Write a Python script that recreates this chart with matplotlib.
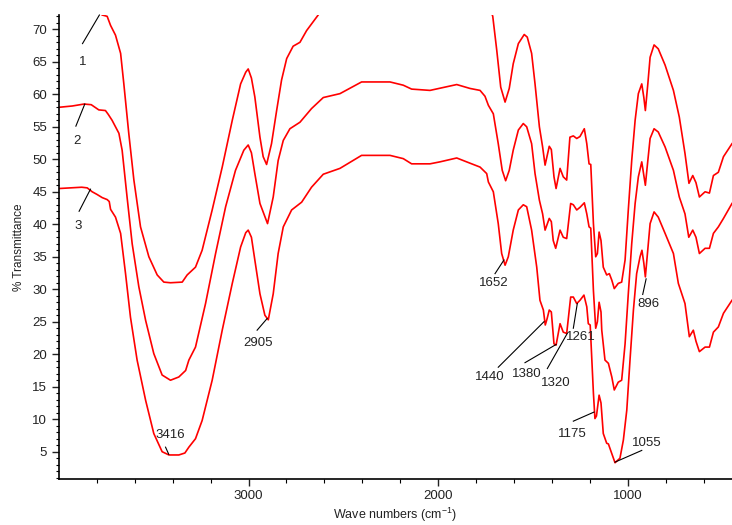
import matplotlib
matplotlib.use("Agg")
import matplotlib.pyplot as plt
from matplotlib.ticker import FixedLocator, MultipleLocator, NullFormatter

plt.rcParams['font.family'] = ['Liberation Sans', 'DejaVu Sans']
plt.rcParams['mathtext.default'] = 'regular'

# ---- data: wavenumber (cm-1) and % transmittance for the three spectra ----
wn1 = [4000, 3850, 3790, 3772, 3746, 3728, 3702, 3675, 3658, 3632, 3605, 3570, 3526,
       3482, 3447, 3412, 3350, 3324, 3280, 3245, 3192, 3139, 3086, 3042, 3015, 3002,
       2985, 2967, 2940, 2923, 2905, 2879, 2852, 2826, 2799, 2765, 2729, 2694, 2638,
       2600, 2400, 2000, 1800, 1730, 1712, 1691, 1670, 1647, 1625, 1604, 1577, 1546,
       1530, 1507, 1489, 1466, 1449, 1436, 1414, 1403, 1389, 1378, 1357, 1340, 1322,
       1305, 1287, 1269, 1252, 1229, 1216, 1204, 1195, 1181, 1169, 1160, 1151, 1141,
       1129, 1111, 1097, 1084, 1071, 1050, 1032, 1014, 997, 979, 961, 944, 926, 915,
       907, 894, 882, 861, 839, 803, 759, 728, 698, 677, 657, 640, 622, 592, 569, 548,
       522, 495, 450]
t1 = [74.0, 74.0, 72.6, 72.2, 72.0, 70.6, 69.1, 66.3, 61.6, 54.0, 46.8, 39.6, 35.0,
      32.2, 31.1, 31.0, 31.1, 32.2, 33.4, 36.0, 42.2, 48.8, 56.0, 61.6, 63.4, 63.9,
      62.5, 59.6, 53.4, 50.4, 49.2, 52.4, 57.5, 62.2, 65.5, 67.4, 68.0, 69.8, 72.0,
      73.5, 76.0, 76.0, 75.0, 73.5, 72.0, 66.8, 61.1, 58.8, 60.9, 64.7, 67.8, 69.2,
      68.8, 66.3, 61.6, 55.0, 51.9, 49.1, 52.0, 51.5, 47.3, 45.5, 48.6, 47.3, 46.8,
      53.4, 53.6, 53.2, 53.5, 54.7, 52.4, 49.3, 49.2, 40.1, 35.0, 35.5, 38.8, 37.5,
      33.4, 32.2, 32.4, 31.4, 30.1, 30.9, 31.1, 34.5, 42.2, 49.8, 56.0, 60.1, 61.6, 59.5,
      57.5, 61.6, 65.7, 67.6, 67.0, 64.5, 60.6, 56.5, 50.9, 46.3, 47.5, 46.4, 44.2, 45.0,
      44.8, 47.5, 48.0, 50.4, 52.4]

wn2 = [4000, 3930, 3868, 3830, 3790, 3755, 3740, 3720, 3684, 3667, 3641, 3614, 3579,
       3543, 3500, 3456, 3412, 3368, 3332, 3315, 3280, 3227, 3174, 3121, 3069, 3025,
       3002, 2985, 2967, 2940, 2900, 2870, 2844, 2817, 2782, 2729, 2668, 2606, 2518,
       2404, 2254, 2184, 2140, 2043, 1902, 1832, 1779, 1753, 1735, 1709, 1683, 1662,
       1644, 1625, 1604, 1577, 1551, 1533, 1507, 1489, 1466, 1449, 1436, 1414, 1403,
       1393, 1380, 1357, 1340, 1322, 1301, 1287, 1269, 1252, 1229, 1216, 1204, 1195,
       1181, 1169, 1160, 1151, 1141, 1137, 1120, 1102, 1084, 1071, 1050, 1032, 1014,
       997, 979, 961, 944, 926, 915, 907, 894, 882, 861, 839, 803, 759, 728, 698, 678,
       657, 640, 622, 592, 569, 548, 522, 495, 450]
t2 = [58.0, 58.2, 58.5, 58.4, 57.6, 57.5, 56.9, 56.0, 54.0, 51.4, 44.2, 37.0, 30.4,
      25.2, 20.1, 16.8, 16.0, 16.5, 17.5, 19.1, 21.1, 27.8, 35.5, 42.7, 48.3, 51.4,
      52.2, 51.0, 47.8, 43.2, 40.1, 44.2, 49.8, 52.9, 54.7, 55.7, 57.8, 59.5, 60.1,
      61.9, 61.9, 61.4, 60.8, 60.6, 61.5, 60.9, 60.6, 59.7, 58.3, 57.0, 52.4, 48.3,
      46.7, 48.3, 51.4, 54.5, 55.5, 55.0, 52.4, 47.8, 43.7, 41.6, 39.1, 40.9, 40.4,
      37.5, 36.3, 39.1, 38.0, 37.8, 43.2, 43.0, 42.2, 42.6, 43.3, 41.6, 39.6, 39.4,
      29.8, 24.0, 25.0, 28.0, 26.5, 23.7, 19.1, 18.6, 16.5, 14.5, 15.7, 16.0, 21.6,
      29.3, 37.0, 43.2, 47.3, 49.6, 47.5, 46.0, 49.8, 53.2, 54.7, 54.2, 51.9, 48.3,
      44.2, 41.6, 38.0, 39.1, 38.0, 35.5, 36.3, 36.3, 38.6, 39.6, 40.9, 43.2]

wn3 = [4000, 3940, 3880, 3851, 3825, 3800, 3772, 3746, 3735, 3728, 3702, 3675, 3649,
       3623, 3588, 3543, 3500, 3456, 3420, 3368, 3336, 3315, 3280, 3245, 3192, 3139,
       3086, 3042, 3015, 3002, 2985, 2967, 2940, 2914, 2896, 2870, 2844, 2817, 2773,
       2720, 2668, 2606, 2518, 2404, 2254, 2184, 2140, 2043, 1991, 1902, 1832, 1779,
       1744, 1735, 1709, 1683, 1665, 1647, 1630, 1604, 1577, 1551, 1533, 1507, 1480,
       1463, 1445, 1435, 1425, 1414, 1403, 1389, 1378, 1357, 1340, 1322, 1301, 1287,
       1269, 1252, 1231, 1216, 1208, 1198, 1181, 1173, 1165, 1151, 1141, 1129, 1111,
       1102, 1084, 1067, 1041, 1023, 1005, 988, 970, 953, 935, 925, 915, 907, 896, 882,
       861, 839, 803, 759, 733, 698, 675, 654, 640, 622, 592, 569, 548, 522, 495, 450]
t3 = [45.5, 45.6, 45.7, 45.6, 45.0, 44.6, 44.1, 43.8, 43.5, 42.3, 41.1, 38.6, 32.4,
      25.7, 19.1, 12.9, 7.8, 5.0, 4.5, 4.5, 4.8, 5.7, 7.0, 9.8, 16.0, 23.7,
      30.9, 36.5, 38.7, 39.1, 38.0, 34.5, 29.3, 26.0, 25.3, 29.3, 35.5, 39.6, 42.2,
      43.4, 45.7, 47.7, 48.6, 50.6, 50.6, 50.1, 49.3, 49.3, 49.6, 50.2, 49.4, 48.8,
      47.8, 46.5, 45.0, 40.1, 35.5, 33.7, 35.0, 39.1, 42.2, 43.0, 42.7, 39.1, 33.4,
      28.3, 26.8, 24.5, 25.5, 26.8, 26.5, 21.6, 21.4, 24.7, 23.4, 23.2, 28.8, 28.8,
      27.8, 28.3, 29.1, 27.3, 24.7, 24.5, 14.0, 10.1, 10.5, 13.7, 12.5, 7.8, 6.3,
      6.2, 4.7, 3.3, 4.0, 6.8, 11.4, 19.1, 26.8, 32.4, 35.0, 36.0, 34.0, 31.9, 35.5, 40.1,
      41.9, 41.1, 38.6, 35.5, 30.9, 27.8, 22.7, 23.7, 22.0, 20.4, 21.1, 21.1, 23.4, 24.2,
      26.3, 28.3]

# ---- annotations: label, text position, pointer start, pointer end ----
ann_labels = ['1', '2', '3', '3416', '2905', '1652', '1440', '1380', '1320', '1261',
              '1175', '1055', '896']
ann_text = [(3876, 65.0), (3907, 52.8), (3898, 39.7), (3412, 7.6), (2949, 21.8),
            (1709, 31.0), (1727, 16.5), (1533, 16.9), (1380, 15.5), (1248, 22.7),
            (1290, 7.8), (897, 6.3), (889, 27.7)]
ann_from = [(3876, 67.8), (3911, 55.1), (3894, 42.0), (3438, 5.7), (2955, 23.7),
            (1700, 32.4), (1683, 18.0), (1542, 18.7), (1424, 17.8), (1287, 24.0),
            (1287, 9.7), (1067, 3.4), (921, 29.2)]
ann_to = [(3787, 72.2), (3864, 58.5), (3834, 45.4), (3421, 4.6), (2902, 25.5),
          (1653, 34.5), (1442, 25.0), (1378, 21.5), (1319, 23.2), (1266, 27.8),
          (1178, 11.1), (926, 5.2), (903, 31.6)]

fig = plt.figure(figsize=(7.32, 5.25), dpi=100)
ax = fig.add_axes([0.0806, 0.0876, 0.9194, 0.8838])

for w, t in [(wn1, t1), (wn2, t2), (wn3, t3)]:
    ax.plot(w, t, color='#ff0000', lw=1.2)

for lab, tp, a, b in zip(ann_labels, ann_text, ann_from, ann_to):
    ax.plot([a[0], b[0]], [a[1], b[1]], color='black', lw=0.8, clip_on=False)
    ax.text(tp[0], tp[1], lab, ha='center', va='center', fontsize=9.5, color='#222222')

ax.set_xlim(4000, 450)
ax.set_ylim(0.8, 72.2)

ax.xaxis.set_major_locator(FixedLocator([3000, 2000, 1000]))
ax.xaxis.set_minor_locator(FixedLocator([3800, 3600, 3400, 3200, 2800, 2600, 2400, 2200,
                                         1800, 1600, 1400, 1200, 800, 600]))
ax.yaxis.set_major_locator(FixedLocator([5, 10, 15, 20, 25, 30, 35, 40, 45, 50, 55, 60, 65, 70]))
ax.yaxis.set_minor_locator(MultipleLocator(1))
ax.xaxis.set_minor_formatter(NullFormatter())

ax.spines['top'].set_visible(False)
ax.spines['right'].set_visible(False)
ax.spines['left'].set_linewidth(1.2)
ax.spines['bottom'].set_linewidth(1.2)

ax.tick_params(axis='both', which='major', labelsize=9.5, direction='out', width=1.0, colors='#222222')
ax.tick_params(axis='y', which='major', length=5)
ax.tick_params(axis='y', which='minor', length=2.5, width=0.8)
ax.tick_params(axis='x', which='major', length=5, pad=3)
ax.tick_params(axis='x', which='minor', length=3, width=0.8)

ax.set_xlabel('Wave numbers (cm$^{-1}$)', fontsize=9, color='#222222', labelpad=3)
ax.set_ylabel('% Transmittance', fontsize=8.5, color='#222222', labelpad=5)

fig.savefig('out.png', dpi=100)
